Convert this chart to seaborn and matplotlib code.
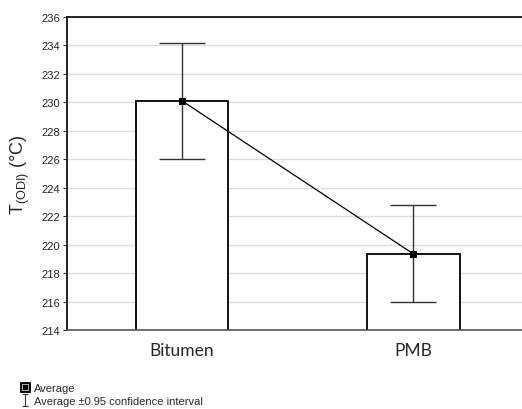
import numpy as np
import pandas as pd
import matplotlib
matplotlib.use("Agg")
import matplotlib.pyplot as plt
from matplotlib.lines import Line2D
from matplotlib.path import Path
import seaborn as sns

categories = ["Bitumen", "PMB"]
means = [230.1, 219.35]
ci_low = [226.0, 216.0]
ci_high = [234.15, 222.8]
yticks = [214, 216, 218, 220, 222, 224, 226, 228, 230, 232, 234, 236]

sns.set_theme(style="white")
plt.rcParams['font.family'] = ['Liberation Sans', 'DejaVu Sans']

df = pd.DataFrame({"cat": categories, "mean": means})

fig = plt.figure(figsize=(5.22, 4.10), dpi=100)
ax = fig.add_axes([67/522, 1-331/410, 1-67/522, (331-18)/410])

sns.barplot(data=df, x="cat", y="mean", ax=ax, width=0.4, color="white",
            edgecolor="black", linewidth=1.3, errorbar=None, zorder=2)

x = np.arange(len(categories))
m = np.array(means)
yerr = np.vstack([m - np.array(ci_low), np.array(ci_high) - m])
ax.errorbar(x, m, yerr=yerr, fmt="none", ecolor="#333333", elinewidth=1.0,
            capsize=16.5, capthick=1.0, zorder=3)
sns.lineplot(x=x, y=m, ax=ax, color="black", linewidth=0.9, marker="s",
             markersize=5, markeredgecolor="black", markerfacecolor="black", zorder=4)

ax.set_ylim(214, 236)
ax.set_xlim(-0.498, 1.47)
ax.set_yticks(yticks)
ax.set_yticklabels([str(v) for v in yticks], fontsize=8, color="#222222")
ax.set_xticks(x)
ax.set_xticklabels(categories, fontsize=12.5, family=['Lato', 'DejaVu Sans'])
ax.set_xlabel("")
ax.set_ylabel(r"T$_{\mathregular{(ODI)}}$ (°C)", fontsize=13, labelpad=7)
ax.grid(axis="y", color="#dddddd", linewidth=1.0, zorder=0)
ax.set_axisbelow(True)
for s in ["left", "top", "bottom"]:
    ax.spines[s].set_visible(True)
    ax.spines[s].set_color("black")
    ax.spines[s].set_linewidth(1.2)
ax.spines["bottom"].set_color("#555555")
ax.spines["right"].set_visible(False)
ax.tick_params(axis="y", left=True, length=3, width=0.8, pad=2)
ax.tick_params(axis="x", bottom=False, pad=3)

ibeam = Path([(-0.5, 1), (0.5, 1), (0, 1), (0, -1), (-0.5, -1), (0.5, -1)],
             [Path.MOVETO, Path.LINETO, Path.MOVETO, Path.LINETO, Path.MOVETO, Path.LINETO])
h1a = Line2D([], [], linestyle="none", marker="s", markersize=7, markerfacecolor="black",
             markeredgecolor="black", markeredgewidth=0.6)
h1b = Line2D([], [], linestyle="none", marker="s", markersize=5, markerfacecolor="none",
             markeredgecolor="white", markeredgewidth=0.6)
h1c = Line2D([], [], linestyle="none", marker="s", markersize=3.6, markerfacecolor="black",
             markeredgecolor="black", markeredgewidth=0.3)
h2 = Line2D([], [], linestyle="none", marker=ibeam, markersize=9, markeredgecolor="#333333",
            markerfacecolor="none", markeredgewidth=0.8)
fig.legend(handles=[(h1a, h1b, h1c), h2], labels=["Average", "Average \u00b10.95 confidence interval"],
           loc="lower left", bbox_to_anchor=(0.025, -0.012), frameon=False, fontsize=8,
           handlelength=0.8, handletextpad=0.35, labelspacing=0.3, borderpad=0.2)

fig.savefig("out.png", dpi=100)
